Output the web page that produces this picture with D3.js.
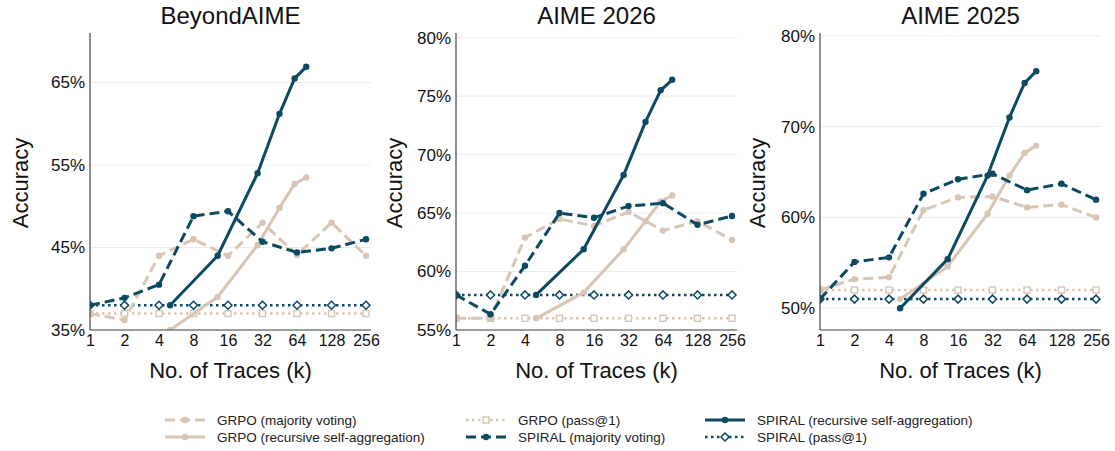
<!DOCTYPE html>
<html>
<head>
<meta charset="utf-8">
<script src="https://cdn.jsdelivr.net/npm/d3@7/dist/d3.min.js"></script>
<style>
  html, body { margin: 0; padding: 0; background: #fff; }
  svg { display: block; font-family: "Liberation Sans", Arial, Helvetica, sans-serif; }
</style>
</head>
<body>
<svg id="chart" width="1115" height="451"></svg>
<script>
// ---------------- DATA ----------------
const panelTitles = ["BeyondAIME", "AIME 2026", "AIME 2025"];
const kGrid = [1, 2, 4, 8, 16, 32, 64, 128, 256];
const kRec = [5, 13, 29, 45, 61, 77];
const xTickLabels = ["1", "2", "4", "8", "16", "32", "64", "128", "256"];

const yTicksBeyond = [35, 45, 55, 65];
const yTicks2026 = [55, 60, 65, 70, 75, 80];
const yTicks2025 = [50, 60, 70, 80];

const yDomainBeyond = [35, 71];
const yDomain2026 = [55, 80.4];
const yDomain2025 = [47.6, 80.3];

// BeyondAIME
const beyondGrpoMaj   = [37.0, 36.2, 44.0, 46.0, 44.0, 48.0, 44.1, 48.0, 44.0];
const beyondSpiralMaj = [38.0, 38.9, 40.5, 48.8, 49.4, 45.7, 44.4, 44.9, 46.0];
const beyondGrpoRec   = [35.0, 39.0, 45.3, 49.8, 52.7, 53.5];
const beyondSpiralRec = [38.0, 44.0, 54.0, 61.2, 65.5, 66.9];
const beyondGrpoPass   = [37, 37, 37, 37, 37, 37, 37, 37, 37];
const beyondSpiralPass = [38, 38, 38, 38, 38, 38, 38, 38, 38];

// AIME 2026
const a26GrpoMaj   = [56.0, 56.0, 62.9, 64.5, 63.9, 65.1, 63.5, 64.3, 62.7];
const a26SpiralMaj = [58.0, 56.35, 60.5, 65.0, 64.6, 65.6, 65.85, 64.0, 64.75];
const a26GrpoRec   = [56.0, 58.2, 61.9, 64.3, 66.0, 66.5];
const a26SpiralRec = [58.0, 61.9, 68.25, 72.8, 75.5, 76.4];
const a26GrpoPass   = [56, 56, 56, 56, 56, 56, 56, 56, 56];
const a26SpiralPass = [58, 58, 58, 58, 58, 58, 58, 58, 58];

// AIME 2025
const a25GrpoMaj   = [52.0, 53.2, 53.4, 60.8, 62.2, 62.3, 61.1, 61.4, 60.0];
const a25SpiralMaj = [51.0, 55.1, 55.6, 62.6, 64.2, 64.8, 63.0, 63.7, 61.95];
const a25GrpoRec   = [51.0, 54.6, 60.4, 64.6, 67.1, 67.9];
const a25SpiralRec = [50.0, 55.4, 64.6, 71.0, 74.8, 76.1];
const a25GrpoPass   = [52, 52, 52, 52, 52, 52, 52, 52, 52];
const a25SpiralPass = [51, 51, 51, 51, 51, 51, 51, 51, 51];

const seriesNames = [
  "GRPO (majority voting)", "GRPO (recursive self-aggregation)",
  "GRPO (pass@1)", "SPIRAL (majority voting)",
  "SPIRAL (recursive self-aggregation)", "SPIRAL (pass@1)"
];

// ---------------- STYLE ----------------
const DARK = "#0c4a62";
const BEIGE = "#d8c5b3";
const styles = {
  "GRPO (pass@1)":                       { color: BEIGE, width: 2.5, dash: "2.5,3.5", marker: "square" },
  "SPIRAL (pass@1)":                     { color: DARK,  width: 2.5, dash: "2.5,3.5", marker: "diamond" },
  "GRPO (majority voting)":              { color: BEIGE, width: 3, dash: "10,5", marker: "circle" },
  "GRPO (recursive self-aggregation)":   { color: BEIGE, width: 3, dash: null, marker: "circle" },
  "SPIRAL (majority voting)":            { color: DARK,  width: 3, dash: "10,5", marker: "circle" },
  "SPIRAL (recursive self-aggregation)": { color: DARK,  width: 3, dash: null, marker: "circle" }
};
const drawOrder = ["GRPO (pass@1)", "SPIRAL (pass@1)", "GRPO (majority voting)",
  "GRPO (recursive self-aggregation)", "SPIRAL (majority voting)", "SPIRAL (recursive self-aggregation)"];

const panels = [
  { title: panelTitles[0], yDomain: yDomainBeyond, yTicks: yTicksBeyond, left: 90, ylabX: 20,
    series: { "GRPO (majority voting)": [kGrid, beyondGrpoMaj], "SPIRAL (majority voting)": [kGrid, beyondSpiralMaj],
      "GRPO (recursive self-aggregation)": [kRec, beyondGrpoRec], "SPIRAL (recursive self-aggregation)": [kRec, beyondSpiralRec],
      "GRPO (pass@1)": [kGrid, beyondGrpoPass], "SPIRAL (pass@1)": [kGrid, beyondSpiralPass] } },
  { title: panelTitles[1], yDomain: yDomain2026, yTicks: yTicks2026, left: 456, ylabX: 394,
    series: { "GRPO (majority voting)": [kGrid, a26GrpoMaj], "SPIRAL (majority voting)": [kGrid, a26SpiralMaj],
      "GRPO (recursive self-aggregation)": [kRec, a26GrpoRec], "SPIRAL (recursive self-aggregation)": [kRec, a26SpiralRec],
      "GRPO (pass@1)": [kGrid, a26GrpoPass], "SPIRAL (pass@1)": [kGrid, a26SpiralPass] } },
  { title: panelTitles[2], yDomain: yDomain2025, yTicks: yTicks2025, left: 820, ylabX: 757,
    series: { "GRPO (majority voting)": [kGrid, a25GrpoMaj], "SPIRAL (majority voting)": [kGrid, a25SpiralMaj],
      "GRPO (recursive self-aggregation)": [kRec, a25GrpoRec], "SPIRAL (recursive self-aggregation)": [kRec, a25SpiralRec],
      "GRPO (pass@1)": [kGrid, a25GrpoPass], "SPIRAL (pass@1)": [kGrid, a25SpiralPass] } }
];

const svg = d3.select("#chart");
const TOP = 33, BOTTOM = 330, PW = 281;

function drawMarker(g, type, x, y, s) {
  if (type === "circle") {
    g.append("circle").attr("cx", x).attr("cy", y).attr("r", 3.2).attr("fill", s.color);
  } else if (type === "square") {
    g.append("rect").attr("x", x - 3).attr("y", y - 3).attr("width", 6).attr("height", 6)
      .attr("fill", "#fff").attr("stroke", s.color).attr("stroke-width", 1.4);
  } else if (type === "diamond") {
    g.append("path").attr("d", `M${x},${y - 4}L${x + 4},${y}L${x},${y + 4}L${x - 4},${y}Z`)
      .attr("fill", "#fff").attr("stroke", s.color).attr("stroke-width", 1.5);
  }
}

panels.forEach((p, i) => {
  const x = d3.scaleLog().base(2).domain([1, 283]).range([p.left, p.left + PW]);
  const y = d3.scaleLinear().domain(p.yDomain).range([BOTTOM, TOP]);
  const g = svg.append("g");

  // clip
  const clipId = "clip" + i;
  svg.append("clipPath").attr("id", clipId).append("rect")
    .attr("x", p.left).attr("y", TOP).attr("width", PW).attr("height", BOTTOM - TOP);

  // grid
  g.append("g").selectAll("line").data(p.yTicks).join("line")
    .attr("x1", p.left).attr("x2", p.left + PW)
    .attr("y1", d => y(d)).attr("y2", d => y(d))
    .attr("stroke", "#ececec").attr("stroke-width", 1);

  // series
  const plot = g.append("g").attr("clip-path", `url(#${clipId})`);
  drawOrder.forEach(name => {
    const s = styles[name];
    const [ks, vs] = p.series[name];
    const pts = ks.map((k, j) => [x(k), y(vs[j])]);
    plot.append("path").attr("d", d3.line()(pts)).attr("fill", "none")
      .attr("stroke", s.color).attr("stroke-width", s.width)
      .attr("stroke-dasharray", s.dash).attr("stroke-linejoin", "round");
    pts.forEach(pt => drawMarker(plot, s.marker, pt[0], pt[1], s));
  });

  // axes
  const yAxis = d3.axisLeft(y).tickValues(p.yTicks).tickSize(0).tickPadding(5).tickFormat(d => d + "%");
  const ya = g.append("g").attr("transform", `translate(${p.left},0)`).call(yAxis);
  ya.select(".domain").attr("stroke", "#444").attr("stroke-width", 1.2).attr("d", `M0,${TOP}V${BOTTOM}`);
  ya.selectAll("text").attr("font-size", 17).attr("fill", "#111").attr("font-family", "Liberation Sans, Arial, sans-serif");

  const xAxis = d3.axisBottom(x).tickValues(kGrid).tickSize(0).tickPadding(5).tickFormat((d, j) => xTickLabels[j]);
  const xa = g.append("g").attr("transform", `translate(0,${BOTTOM})`).call(xAxis);
  xa.select(".domain").attr("stroke", "#444").attr("stroke-width", 1.2).attr("d", `M${p.left},0H${p.left + PW}`);
  xa.selectAll("text").attr("font-size", 16).attr("fill", "#111").attr("font-family", "Liberation Sans, Arial, sans-serif");

  // title
  g.append("text").attr("x", p.left + PW / 2).attr("y", 24).attr("text-anchor", "middle")
    .attr("font-size", 24).attr("fill", "#111").text(p.title);
  // x label
  g.append("text").attr("x", p.left + PW / 2).attr("y", 378).attr("text-anchor", "middle")
    .attr("font-size", 22).attr("fill", "#111").text("No. of Traces (k)");
  // y label
  g.append("text").attr("transform", `translate(${p.ylabX},183) rotate(-90)`)
    .attr("text-anchor", "middle").attr("dominant-baseline", "central")
    .attr("font-size", 22).attr("fill", "#111").text("Accuracy");
});

// legend
const legendPos = {
  "GRPO (majority voting)":              [165, 420],
  "GRPO (recursive self-aggregation)":   [165, 437],
  "GRPO (pass@1)":                       [466, 420],
  "SPIRAL (majority voting)":            [466, 437],
  "SPIRAL (recursive self-aggregation)": [705, 420],
  "SPIRAL (pass@1)":                     [705, 437]
};
const lg = svg.append("g");
seriesNames.forEach(name => {
  const s = styles[name];
  const [lx, ly] = legendPos[name];
  lg.append("line").attr("x1", lx).attr("x2", lx + 40).attr("y1", ly).attr("y2", ly)
    .attr("stroke", s.color).attr("stroke-width", s.width).attr("stroke-dasharray", s.dash);
  drawMarker(lg, s.marker, lx + 20, ly, s);
  lg.append("text").attr("x", lx + 52).attr("y", ly).attr("dominant-baseline", "central")
    .attr("font-size", 13.5).attr("fill", "#222").text(name);
});
</script>
</body>
</html>
